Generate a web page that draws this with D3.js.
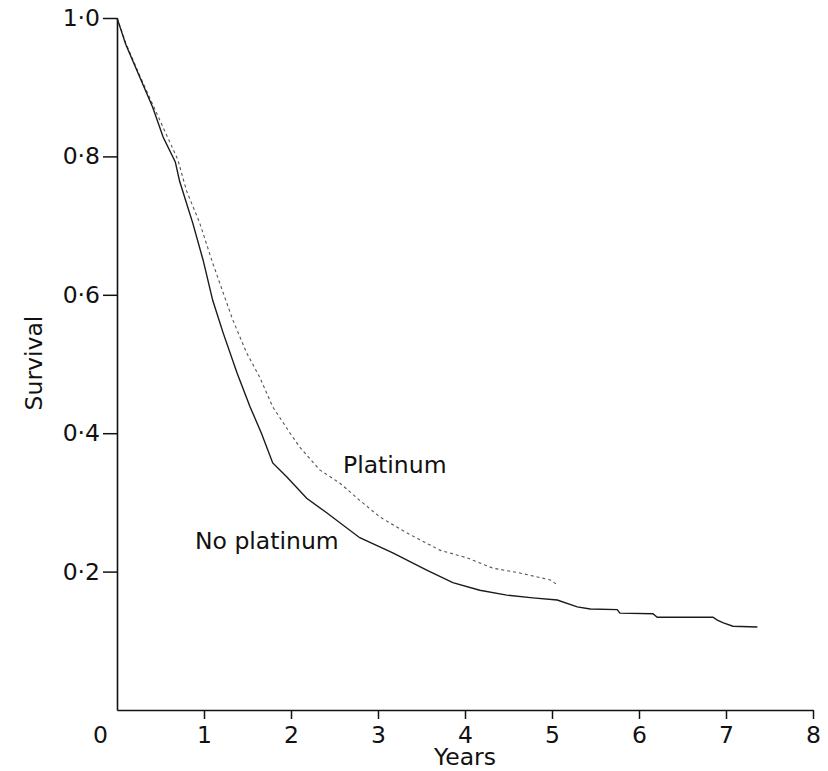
<!DOCTYPE html>
<html><head><meta charset="utf-8">
<script src="https://cdn.jsdelivr.net/npm/d3@7"></script>
<style>body{margin:0;background:#fff}</style>
</head><body><svg id="c" width="828" height="771"></svg>
<script>
const xTicks=[0,1,2,3,4,5,6,7,8];
const yTicks=[0.2,0.4,0.6,0.8,1.0];
const noPlatTime=[0,0.04,0.10,0.26,0.41,0.53,0.67,0.72,0.87,0.99,1.10,1.22,1.38,1.53,1.66,1.79,1.95,2.18,2.41,2.79,3.17,3.56,3.86,4.17,4.48,4.78,5.06,5.29,5.44,5.75,5.78,6.16,6.21,6.85,6.90,6.97,7.08,7.36];
const noPlatSurv=[1.0,0.985,0.962,0.915,0.871,0.828,0.792,0.764,0.704,0.650,0.592,0.545,0.487,0.438,0.400,0.357,0.337,0.306,0.285,0.249,0.227,0.202,0.184,0.173,0.166,0.162,0.159,0.149,0.146,0.145,0.140,0.139,0.134,0.134,0.130,0.126,0.121,0.120];
const platTime=[0,0.04,0.10,0.26,0.49,0.70,0.80,0.95,1.10,1.22,1.33,1.49,1.64,1.79,1.99,2.10,2.33,2.56,2.79,3.02,3.33,3.71,4.02,4.32,4.63,4.98,5.06];
const platSurv=[1.0,0.986,0.964,0.917,0.853,0.795,0.750,0.704,0.646,0.603,0.564,0.516,0.481,0.438,0.400,0.380,0.347,0.328,0.303,0.279,0.256,0.231,0.220,0.205,0.198,0.188,0.181];
const seriesLabels=["Platinum","No platinum"];
const xTitle="Years", yTitle="Survival";

const svg=d3.select("#c");
const FONT='"DejaVu Sans", sans-serif';
const fs=23.5;
const x=d3.scaleLinear().domain([0,8]).range([117,813]);
const y=d3.scaleLinear().domain([0,1]).range([710,18]);

const gx=svg.append("g").attr("transform","translate(0,710)")
  .call(d3.axisBottom(x).tickValues(xTicks).tickSize(9).tickPadding(7).tickSizeOuter(0).tickFormat(d3.format("d")));
gx.attr("font-family",FONT).attr("font-size",fs);
gx.select(".domain").attr("stroke","#111").attr("stroke-width",1.6);
gx.selectAll(".tick line").attr("stroke","#111").attr("stroke-width",1.5);
gx.selectAll(".tick text").attr("fill","#111");
gx.selectAll(".tick").filter(d=>d===0).select("line").remove();
gx.selectAll(".tick").filter(d=>d===0).select("text").attr("x",-17);

const gy=svg.append("g").attr("transform","translate(117,0)")
  .call(d3.axisLeft(y).tickValues(yTicks).tickSize(14).tickPadding(3).tickSizeOuter(0)
    .tickFormat(d=>d3.format(".1f")(d).replace(".","\u00B7")));
gy.attr("font-family",FONT).attr("font-size",fs);
gy.select(".domain").attr("stroke","#111").attr("stroke-width",1.6);
gy.selectAll(".tick line").attr("stroke","#111").attr("stroke-width",1.5);
gy.selectAll(".tick text").attr("fill","#111");

const line=d3.line().x(d=>x(d[0])).y(d=>y(d[1]));
const noPlat=noPlatTime.map((t,i)=>[t,noPlatSurv[i]]);
const plat=platTime.map((t,i)=>[t,platSurv[i]]);

svg.append("path").datum(plat).attr("d",line).attr("fill","none")
  .attr("stroke","#555").attr("stroke-width",1.1).attr("stroke-dasharray","3,3");
svg.append("path").datum(noPlat).attr("d",line).attr("fill","none")
  .attr("stroke","#1a1a1a").attr("stroke-width",1.4);

svg.append("text").attr("x",343).attr("y",473).text(seriesLabels[0])
  .attr("font-family",FONT).attr("font-size",fs).attr("fill","#111");
svg.append("text").attr("x",195).attr("y",549).text(seriesLabels[1])
  .attr("font-family",FONT).attr("font-size",fs).attr("fill","#111");
svg.append("text").attr("x",465).attr("y",765).attr("text-anchor","middle").text(xTitle)
  .attr("font-family",FONT).attr("font-size",23.5).attr("fill","#111");
svg.append("text").attr("transform","translate(42,363) rotate(-90)").attr("text-anchor","middle").text(yTitle)
  .attr("font-family",FONT).attr("font-size",fs).attr("fill","#111");
</script></body></html>
